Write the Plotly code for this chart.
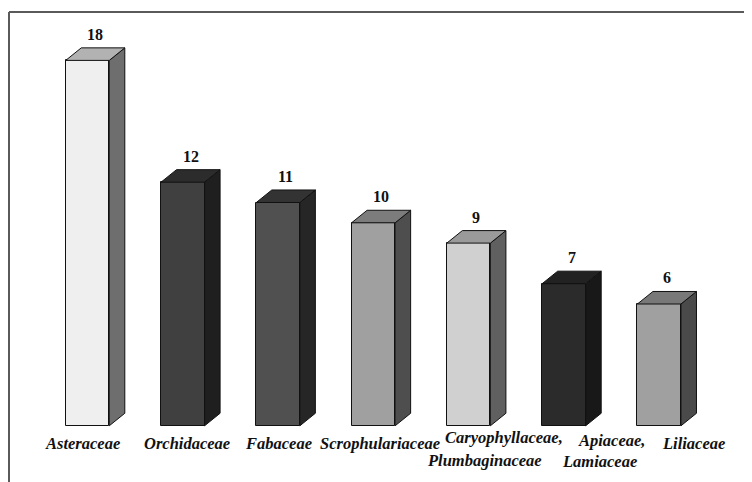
import plotly.graph_objects as go

# ---- data ----
families = [["Asteraceae"], ["Orchidaceae"], ["Fabaceae"], ["Scrophulariaceae"],
            ["Caryophyllaceae,", "Plumbaginaceae"], ["Apiaceae,", "Lamiaceae"], ["Liliaceae"]]
counts = [18, 12, 11, 10, 9, 7, 6]

# ---- styles ----
front_colors = ["#efefef", "#404040", "#505050", "#a0a0a0", "#d0d0d0", "#2b2b2b", "#a0a0a0"]
top_colors = ["#b2b2b2", "#2c2c2c", "#333333", "#7c7c7c", "#9a9a9a", "#222222", "#787878"]
side_colors = ["#6e6e6e", "#1f1f1f", "#262626", "#4e4e4e", "#606060", "#181818", "#4a4a4a"]
# per-line pixel offsets of the category labels (x shift, y shift below the baseline)
label_dx = [[-5.5], [4], [0.5], [7], [35, 16], [48, 36], [34]]
label_dy = [[17.7], [17.7], [17.7], [17.7], [11.7, 34.7], [14.5, 35.5], [17.7]]

bar_w = 0.457      # bar width in category units
dx = 0.163         # 3D depth, x (category units)
dy = 0.617         # 3D depth, y (value units)
edge = "#111111"

W, H = 744, 474    # page body has an 8px margin

fig = go.Figure()

xs = list(range(len(counts)))

# side and top faces
for i, v in zip(xs, counts):
    r = i + bar_w / 2
    l = i - bar_w / 2
    fig.add_trace(go.Scatter(
        x=[r, r + dx, r + dx, r, r], y=[0, dy, v + dy, v, 0],
        fill="toself", fillcolor=side_colors[i], mode="lines",
        line=dict(color=edge, width=1), hoverinfo="skip", showlegend=False))
    fig.add_trace(go.Scatter(
        x=[l, r, r + dx, l + dx, l], y=[v, v, v + dy, v + dy, v],
        fill="toself", fillcolor=top_colors[i], mode="lines",
        line=dict(color=edge, width=1), hoverinfo="skip", showlegend=False))

# front faces
fig.add_trace(go.Bar(
    x=xs, y=counts, width=bar_w, base=0,
    marker=dict(color=front_colors, line=dict(color=edge, width=1)),
    showlegend=False, hoverinfo="skip"))

# value labels
for i, v in zip(xs, counts):
    fig.add_annotation(x=i + dx / 2, y=v + dy, text="<b>%d</b>" % v,
                       showarrow=False, yanchor="bottom", yshift=3,
                       font=dict(family="Liberation Serif", size=16, color="#111111"))

# category labels
for i, lines in zip(xs, families):
    for k, line in enumerate(lines):
        fig.add_annotation(x=i, y=0, text="<b><i>%s</i></b>" % line,
                           showarrow=False, yanchor="middle",
                           yshift=-label_dy[i][k], xshift=label_dx[i][k],
                           font=dict(family="Liberation Serif", size=16.5, color="#111111"))

# frame (open on right / bottom)
fx = 1 / W
fy = 1 - 4 / H
fig.add_shape(type="line", xref="paper", yref="paper", x0=fx, x1=1, y0=fy, y1=fy,
              line=dict(color="#5a5a5a", width=2))
fig.add_shape(type="line", xref="paper", yref="paper", x0=fx, x1=fx, y0=0, y1=fy,
              line=dict(color="#5a5a5a", width=2))

fig.update_layout(
    width=W, height=H, autosize=False,
    margin=dict(l=0, r=0, t=0, b=0),
    plot_bgcolor="white", paper_bgcolor="white",
    xaxis=dict(range=[-0.8344, 6.9742], visible=False, fixedrange=True),
    yaxis=dict(range=[-2.768, 20.581], visible=False, fixedrange=True),
    bargap=0,
)

fig.write_html("out.html")
